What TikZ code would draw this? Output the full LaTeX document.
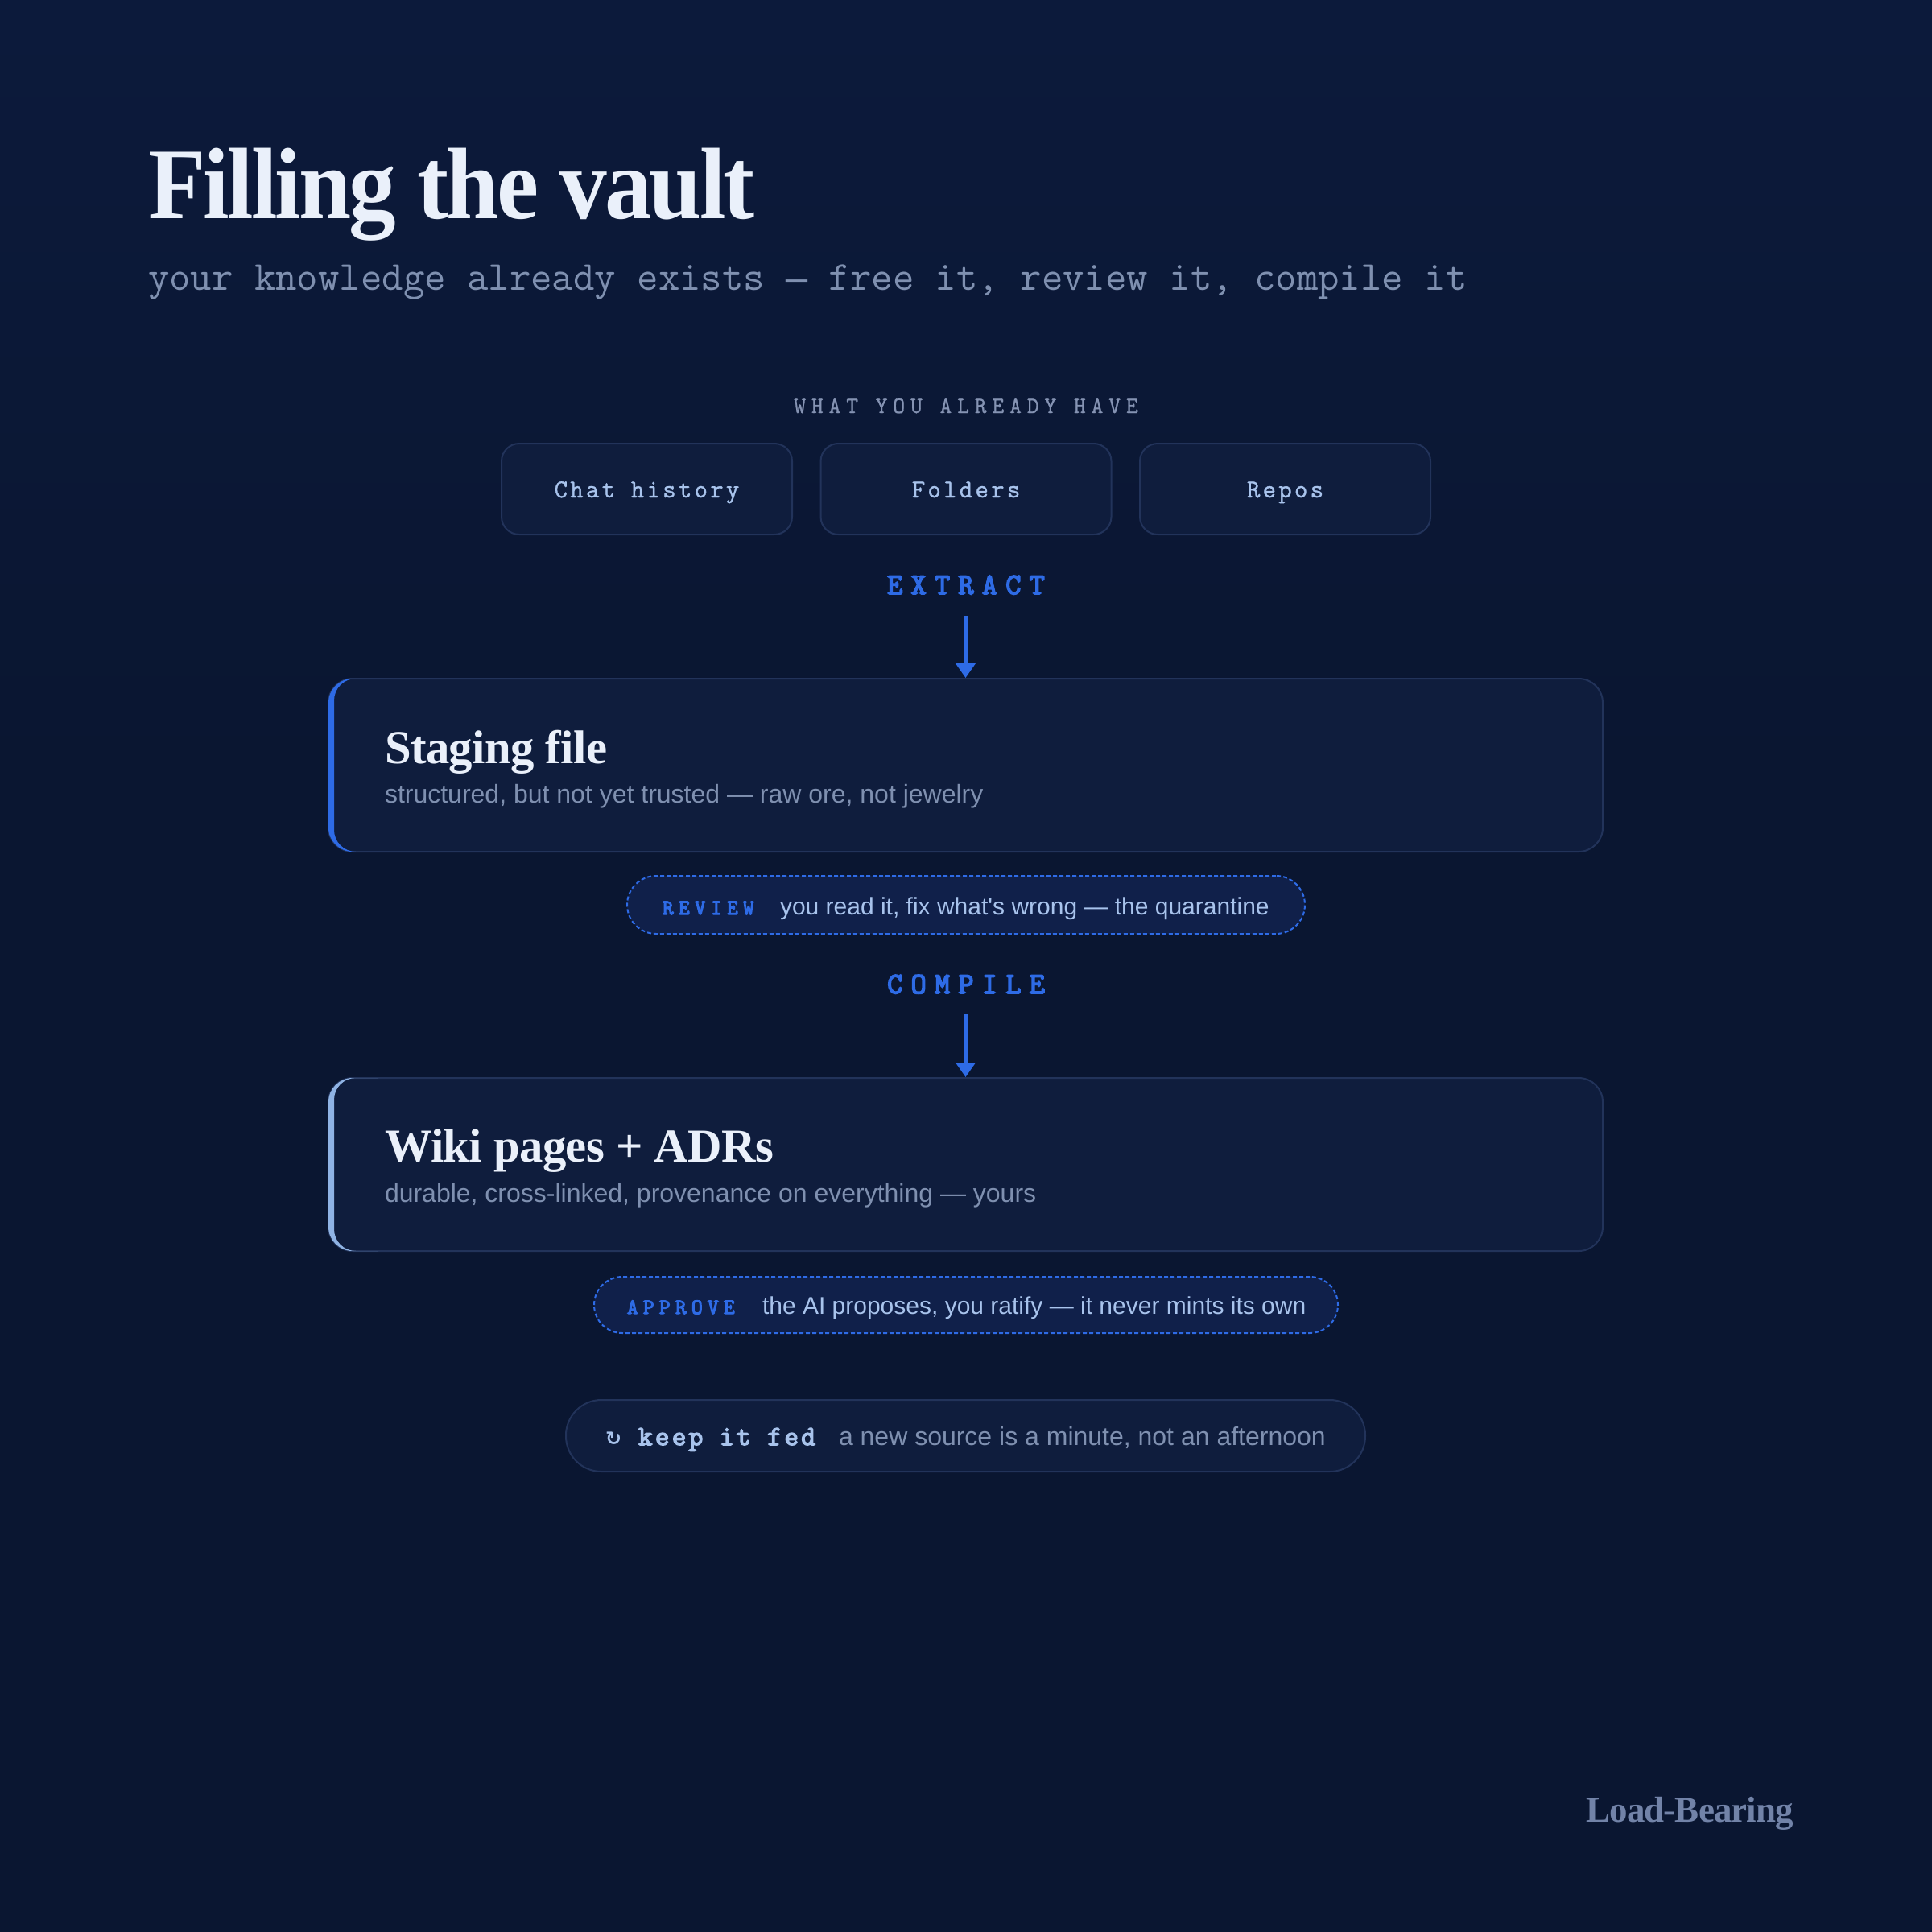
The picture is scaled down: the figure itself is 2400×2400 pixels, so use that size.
\documentclass[tikz,border=0pt]{standalone}
\usepackage{fontspec}
\setmainfont{Liberation Serif}
\newfontfamily\sansf{Liberation Sans}
\newfontfamily\monof{Latin Modern Mono}
\newfontfamily\monom{Latin Modern Mono}[FakeBold=1]
\newfontfamily\monob{Latin Modern Mono}[FakeBold=4.5]
\newfontfamily\dashf{Liberation Mono}
\newfontfamily\symf{DejaVu Sans}
\usetikzlibrary{arrows.meta}
\definecolor{bgtop}{HTML}{0F1F48}
\definecolor{bgbot}{HTML}{0A1631}
\definecolor{boxfill}{HTML}{0F1D3D}
\definecolor{boxline}{HTML}{22335A}
\definecolor{titlec}{HTML}{EAF0FA}
\definecolor{subc}{HTML}{7F90B0}
\definecolor{lblue}{HTML}{A8C3EC}
\definecolor{accent}{HTML}{2E6BE6}
\definecolor{accenttwo}{HTML}{8FB3E4}
\definecolor{pillfill}{HTML}{10204A}
\definecolor{labelgray}{HTML}{8593B3}
\definecolor{brand}{HTML}{7283A8}
\pgfdeclareverticalshading{bgshade}{100bp}{color(0bp)=(bgbot); color(55bp)=(bgbot); color(100bp)=(bgtop)}
\begin{document}
\begin{tikzpicture}[x=1pt,y=-1pt,
  txt/.style={inner sep=0pt, outer sep=0pt},
  srcbox/.style={draw=boxline, line width=2pt, fill=boxfill, rounded corners=22pt,
    minimum width=361pt, minimum height=113pt, inner sep=0pt, text=lblue,
    text height=21pt, text depth=0pt,
    font=\monom\fontsize{32}{36}\selectfont\addfontfeature{LetterSpace=10}},
  stagebox/.style={draw=boxline, line width=2pt, fill=boxfill, rounded corners=30pt,
    minimum width=1583pt, minimum height=215pt, inner sep=0pt},
  steplabel/.style={txt, anchor=base, text=accent,
    font=\monob\fontsize{37}{40}\selectfont\addfontfeature{LetterSpace=28}},
  flowarrow/.style={draw=accent, line width=4pt, -{Triangle[width=24pt,length=18pt]}},
  boxtitle/.style={txt, anchor=base west, text=titlec,
    font=\bfseries\fontsize{58.7}{66}\selectfont\addfontfeature{LetterSpace=-1}},
  boxsub/.style={txt, anchor=base west, text=subc, font=\sansf\fontsize{32}{38}\selectfont},
  gatepill/.style={draw=accent, dashed, dash pattern=on 5pt off 3pt, line width=2pt,
    fill=pillfill, inner sep=0pt},
  gatetag/.style={txt, anchor=base west, text=accent,
    font=\monob\fontsize{26.5}{30}\selectfont\addfontfeature{LetterSpace=24}},
  gatetext/.style={txt, anchor=base west, text=lblue, font=\sansf\fontsize{30}{36}\selectfont}
]
\shade[shading=bgshade] (0,0) rectangle (2400,2400);
\useasboundingbox (0,0) rectangle (2400,2400);

% title
\node[txt, anchor=base west, text=titlec,
  font=\bfseries\fontsize{126}{136}\selectfont\addfontfeature{FakeStretch=0.93,LetterSpace=-2.3}] (title) at (184,272) {Filling the vault};
\node[txt, anchor=base west, text=subc, font=\monof\fontsize{51.3}{56}\selectfont] (subtitle) at (184,360)
  {your knowledge already exists {\dashf\fontsize{44.9}{50}\selectfont —} free it, review it, compile it};

% sources
\node[txt, anchor=base, text=labelgray,
  font=\monom\fontsize{28.7}{32}\selectfont\addfontfeature{LetterSpace=24}] (havelbl) at (1200,513) {WHAT YOU ALREADY HAVE};
\node[srcbox] (chat) at (803.5,607.5) {Chat history};
\node[srcbox] (folders) at (1200,607.5) {Folders};
\node[srcbox] (repos) at (1596.5,607.5) {Repos};

% extract
\node[steplabel] (extract) at (1200,738) {EXTRACT};
\node[stagebox] (staging) at (1199.5,950.5) {};
\begin{scope}
  \clip[rounded corners=30pt] (408,843) rectangle (1991,1058);
  \clip (400,830) rectangle (470,1070);
  \fill[accent, even odd rule] (390,800) rectangle (500,1100)
    [rounded corners=27pt] (415,843) rectangle (2100,1058);
\end{scope}
\draw[flowarrow, shorten <=27pt] (extract.south -| staging.north) -- (staging.north);
\node[boxtitle] (stagingtitle) at (478,948) {Staging file};
\node[boxsub] (stagingsub) at (478,997) {structured, but not yet trusted — raw ore, not jewelry};

% review
\node[gatepill, rounded corners=36pt, minimum width=842pt, minimum height=72pt] (review) at (1200,1124) {};
\node[gatetag] (reviewtag) at (823,1136) {REVIEW};
\node[gatetext] (reviewtext) at (969,1136) {you read it, fix what's wrong — the quarantine};

% compile
\node[steplabel] (compile) at (1200,1234) {COMPILE};
\node[stagebox] (wiki) at (1199.5,1446.5) {};
\begin{scope}
  \clip[rounded corners=30pt] (408,1339) rectangle (1991,1554);
  \clip (400,1320) rectangle (470,1570);
  \fill[accenttwo, even odd rule] (390,1300) rectangle (500,1600)
    [rounded corners=27pt] (415,1339) rectangle (2100,1554);
\end{scope}
\draw[flowarrow, shorten <=26pt] (compile.south -| wiki.north) -- (wiki.north);
\node[boxtitle] (wikititle) at (478,1443) {Wiki pages + ADRs};
\node[boxsub] (wikisub) at (478,1493) {durable, cross-linked, provenance on everything — yours};

% approve
\node[gatepill, rounded corners=35pt, minimum width=924pt, minimum height=70pt] (approve) at (1200,1621) {};
\node[gatetag] (approvetag) at (779,1632) {APPROVE};
\node[gatetext] (approvetext) at (947,1632) {the AI proposes, you ratify — it never mints its own};

% keep it fed
\node[draw=boxline, line width=2pt, fill=boxfill, rounded corners=44pt,
  minimum width=993pt, minimum height=89pt, inner sep=0pt] (keep) at (1199.5,1783.5) {};
\node[txt, anchor=base west, text=lblue,
  font=\monob\fontsize{34}{38}\selectfont\addfontfeature{LetterSpace=10}] (keeptag) at (752,1795)
  {{\symf\bfseries\fontsize{24}{30}\selectfont ↻} keep it fed};
\node[txt, anchor=base west, text=subc, font=\sansf\fontsize{32}{38}\selectfont] (keeptext) at (1042,1795)
  {a new source is a minute, not an afternoon};

% brand
\node[txt, anchor=base east, text=brand,
  font=\bfseries\fontsize{45}{50}\selectfont\addfontfeature{LetterSpace=-2}] (brand) at (2228,2263) {Load-Bearing};
\end{tikzpicture}
\end{document}
